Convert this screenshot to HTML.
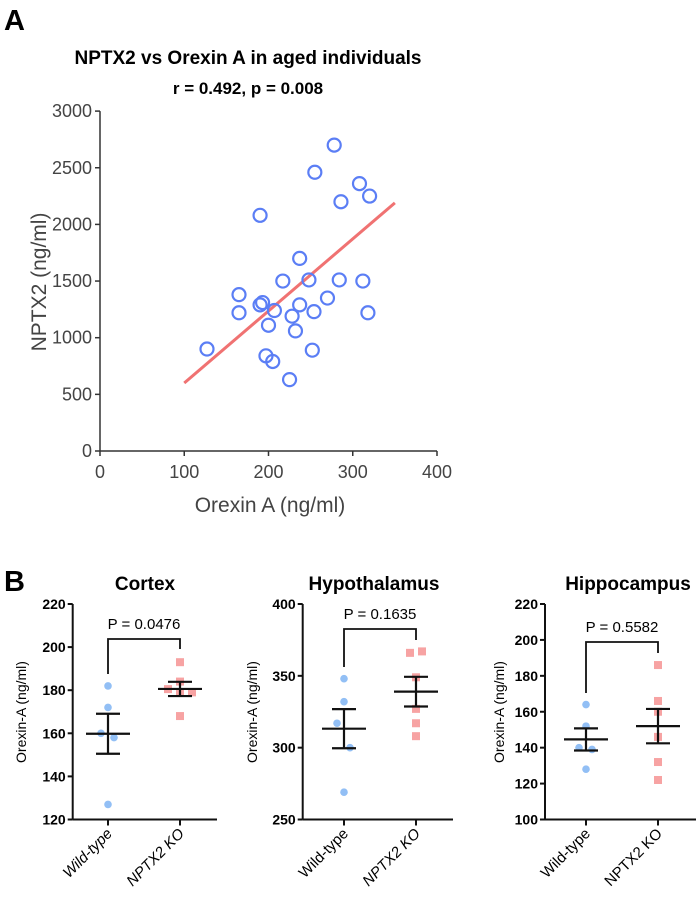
<!DOCTYPE html>
<html><head><meta charset="utf-8"><style>
html,body{margin:0;padding:0;background:#fff;}
svg{display:block;font-family:"Liberation Sans",Arial,sans-serif;}
</style></head><body>
<svg id="fig" width="696" height="899" viewBox="0 0 696 899" xmlns="http://www.w3.org/2000/svg">
<text x="4" y="30" font-size="29" font-weight="bold">A</text>
<text x="248" y="64" font-size="19" font-weight="bold" text-anchor="middle">NPTX2 vs Orexin A in aged individuals</text>
<text x="248" y="94" font-size="17" font-weight="bold" text-anchor="middle">r = 0.492, p = 0.008</text>
<g id="scatter"></g>
<text x="4" y="591" font-size="29" font-weight="bold">B</text>
<g id="panels"></g>
</svg>
<script>
const NS="http://www.w3.org/2000/svg";
const xVals=[127,165,165,190,190,193,200,197,205,207,217,228,225,232,237,237,248,252,254,255,270,278,284,286,308,312,320,318];
const yVals=[900,1380,1220,2080,1290,1310,1110,840,790,1240,1500,1190,630,1060,1290,1700,1510,890,1230,2460,1350,2700,1510,2200,2360,1500,2250,1220];
const fitX=[100,350];
const fitY=[600,2190];
const xTicks=[0,100,200,300,400];
const yTicks=[0,500,1000,1500,2000,2500,3000];

const groups=["Wild-type","NPTX2 KO"];
const regions=["Cortex","Hypothalamus","Hippocampus"];
const pLabels=["P = 0.0476","P = 0.1635","P = 0.5582"];
const cortexWT=[182,172,160,158,127];
const cortexKO=[193,184,180.5,179,179,168];
const hypoWT=[348,332,317,300,269];
const hypoKO=[366,367,349,327,317,308];
const hippoWT=[164,152,140,139,128];
const hippoKO=[186,166,160,146,132,122];
const cortexTicks=[120,140,160,180,200,220];
const hypoTicks=[250,300,350,400];
const hippoTicks=[100,120,140,160,180,200,220];

function el(tag,attrs,parent,txt){const e=document.createElementNS(NS,tag);for(const k in attrs)e.setAttribute(k,attrs[k]);if(txt!==undefined)e.textContent=txt;parent.appendChild(e);return e;}

const sc=document.getElementById('scatter');
const sx=v=>100+v*0.8425, sy=v=>451-v*0.1133;
el('line',{x1:100,y1:sy(0),x2:sx(400),y2:sy(0),stroke:'#333','stroke-width':1.5},sc);
el('line',{x1:100,y1:sy(0),x2:100,y2:sy(3000),stroke:'#333','stroke-width':1.5},sc);
xTicks.forEach(t=>{
 el('line',{x1:sx(t),y1:sy(0),x2:sx(t),y2:sy(0)+5,stroke:'#333','stroke-width':1.5},sc);
 const l=el('text',{x:sx(t),y:478,'font-size':18,fill:'#444','text-anchor':'middle'},sc,String(t));
 
 
});
yTicks.forEach(t=>{
 el('line',{x1:95,y1:sy(t),x2:100,y2:sy(t),stroke:'#333','stroke-width':1.5},sc);
 const l=el('text',{x:92,y:sy(t)+6,'font-size':18,fill:'#444','text-anchor':'end'},sc,String(t));
 
 
});
const xt=el('text',{x:270,y:512,'font-size':21,fill:'#444','text-anchor':'middle'},sc,'Orexin A (ng/ml)');


const yt=el('text',{x:0,y:0,'font-size':21,fill:'#444','text-anchor':'middle',transform:'translate(46,282) rotate(-90)'},sc,'NPTX2 (ng/ml)');


const fl=el('line',{x1:sx(fitX[0]),y1:sy(fitY[0]),x2:sx(fitX[1]),y2:sy(fitY[1]),stroke:'#f07272','stroke-width':3},sc);


xVals.forEach((x,i)=>{
 const c=el('circle',{cx:sx(x),cy:sy(yVals[i]),r:6.5,fill:'none',stroke:'#5b7ef5','stroke-width':2.2},sc);
 
 
});

const pg=document.getElementById('panels');
const cfg=[
 {ax:72.7,xEnd:217,xWT:108,xKO:180,min:120,max:220,ticks:cortexTicks,wt:cortexWT,ko:cortexKO,br:639,lW:674,lK:649,tx:145,titleX:22,itW:true,itK:true},
 {ax:302.7,xEnd:453,xWT:344,xKO:416,min:250,max:400,ticks:hypoTicks,wt:hypoWT,ko:hypoKO,br:629,lW:667,lK:640,tx:374,titleX:253,itW:false,itK:true},
 {ax:545,xEnd:696,xWT:586,xKO:658,min:100,max:220,ticks:hippoTicks,wt:hippoWT,ko:hippoKO,br:642,lW:693,lK:653,tx:628,titleX:500,itW:false,itK:false}
];
const yTop=604,yBot=819.5;
const mean=a=>a.reduce((s,v)=>s+v,0)/a.length;
const sem=a=>{const m=mean(a);return Math.sqrt(a.reduce((s,v)=>s+(v-m)*(v-m),0)/(a.length-1))/Math.sqrt(a.length);};
cfg.forEach((c,i)=>{
 const g=el('g',{},pg);
 
 
 const y=v=>yBot-(v-c.min)/(c.max-c.min)*(yBot-yTop);
 const t=el('text',{x:c.tx,y:590,'font-size':19,'font-weight':'bold','text-anchor':'middle'},g,regions[i]);
 
 
 el('line',{x1:c.ax,y1:yTop,x2:c.ax,y2:yBot,stroke:'#111','stroke-width':2},g);
 el('line',{x1:c.ax,y1:yBot,x2:c.xEnd,y2:yBot,stroke:'#111','stroke-width':2},g);
 c.ticks.forEach(tv=>{
  el('line',{x1:c.ax-5,y1:y(tv),x2:c.ax,y2:y(tv),stroke:'#111','stroke-width':2},g);
  const l=el('text',{x:c.ax-7,y:y(tv)+5,'font-size':14,'font-weight':'bold','text-anchor':'end'},g,String(tv));
  
  
 });
 const yl=el('text',{x:0,y:0,'font-size':14,'text-anchor':'middle',transform:`translate(${c.titleX+4},712) rotate(-90)`},g,'Orexin-A (ng/ml)');
 
 
 [[c.xWT,groups[0],c.itW],[c.xKO,groups[1],c.itK]].forEach(([gx,lab,it])=>{
  el('line',{x1:gx,y1:yBot,x2:gx,y2:yBot+6,stroke:'#111','stroke-width':2},g);
  const l=el('text',{x:0,y:0,'font-size':15,'text-anchor':'end','font-style':it?'italic':'normal',transform:`translate(${gx+5},${yBot+15}) rotate(-45)`},g,lab);
  
  
 });
 const b=el('path',{d:`M${c.xWT},${c.lW}V${c.br}H${c.xKO}V${c.lK}`,fill:'none',stroke:'#111','stroke-width':1.8},g);
 
 
 const p=el('text',{x:(c.xWT+c.xKO)/2,y:c.br-10,'font-size':15,'text-anchor':'middle'},g,pLabels[i]);
 
 
 c.wt.forEach((v,j)=>{
  const d=el('circle',{cx:c.xWT+(j===2?-7:j===3?6:0),cy:y(v),r:3.8,fill:'#92bff5'},g);
  
  
 });
 c.ko.forEach((v,j)=>{
  const dx=i===0?[0,0,-12,0,12,0][j]:i===1?[-6,6,0,0,0,0][j]:0;
  const d=el('rect',{x:c.xKO+dx-4,y:y(v)-4,width:8,height:8,fill:'#f7a3a3'},g);
  
  
 });
 [[c.xWT,c.wt],[c.xKO,c.ko]].forEach(([gx,arr])=>{
  const m=mean(arr),s=sem(arr);
  const e=el('path',{d:`M${gx-22},${y(m)}H${gx+22}M${gx},${y(m+s)}V${y(m-s)}M${gx-12},${y(m+s)}H${gx+12}M${gx-12},${y(m-s)}H${gx+12}`,fill:'none',stroke:'#111','stroke-width':2.2},g);
  
  
 });
});
</script>
</body></html>
